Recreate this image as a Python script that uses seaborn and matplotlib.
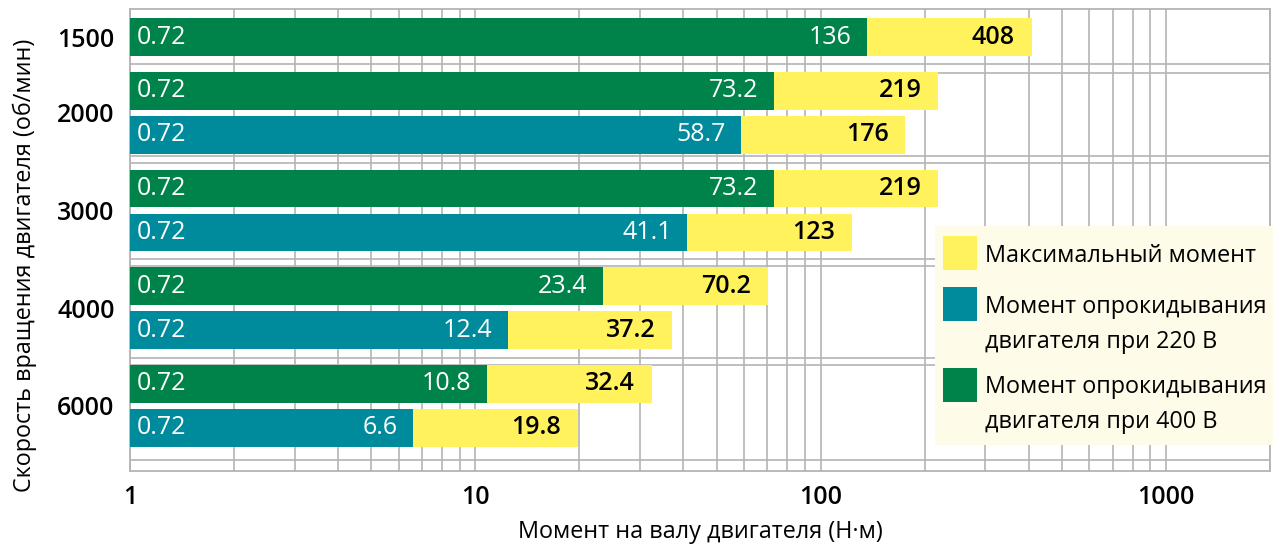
import numpy as np
import pandas as pd
import seaborn as sns
import matplotlib.pyplot as plt
from matplotlib.patches import Rectangle
from matplotlib.ticker import LogLocator, FixedLocator, NullFormatter

# Data
speeds = ['1500', '2000', '3000', '4000', '6000']
start_torque = 0.72
tip_400 = [136, 73.2, 73.2, 23.4, 10.8]       # tipping moment at 400 V
max_400 = [408, 219, 219, 70.2, 32.4]
tip_220 = [None, 58.7, 41.1, 12.4, 6.6]       # tipping moment at 220 V
max_220 = [None, 176, 123, 37.2, 19.8]

legend_labels = ['Максимальный момент',
                 'Момент опрокидывания\nдвигателя при 220 В',
                 'Момент опрокидывания\nдвигателя при 400 В']
xticks = [1, 10, 100, 1000]

GREEN = '#00834a'
TEAL = '#008b9c'
YELLOW = '#fff25c'
GRID = '#b4b4b4'
LEGEND_BG = '#fefce8'

W, H = 1279, 547
NUM_FS = 18     # numbers
TXT_FS = 16.8   # cyrillic text

sns.set_style('white')
plt.rcParams['font.family'] = ['Open Sans', 'DejaVu Sans']
plt.rcParams.update({'text.color': 'black', 'axes.labelcolor': 'black',
                     'xtick.color': 'black', 'ytick.color': 'black'})

# Build one row per bar, groups separated by a gap
rows = []
pos = 0.0
group_centers = []
for i, spd in enumerate(speeds):
    group_pos = []
    rows.append(dict(pos=pos, speed=spd, series='400', tip=tip_400[i], max=max_400[i]))
    group_pos.append(pos)
    if tip_220[i] is not None:
        pos += 1.0
        rows.append(dict(pos=pos, speed=spd, series='220', tip=tip_220[i], max=max_220[i]))
        group_pos.append(pos)
    group_centers.append(np.mean(group_pos))
    pos += 1.22
df = pd.DataFrame(rows)

fig = plt.figure(figsize=(W / 100, H / 100), dpi=100)
ax = fig.add_axes([130 / W, 1 - 471 / H, 1140 / W, 462 / H])

# yellow max bars first, then the tipping moment bars over them
sns.barplot(data=df, x='max', y='pos', orient='h', native_scale=True,
            color=YELLOW, saturation=1, width=0.86, linewidth=0,
            log_scale=(True, False), ax=ax, zorder=2)
sns.barplot(data=df, x='tip', y='pos', hue='series', orient='h', native_scale=True,
            palette={'400': GREEN, '220': TEAL}, saturation=1, width=0.86,
            linewidth=0, dodge=False, legend=False, ax=ax, zorder=3)

ax.set_xscale('log')
ax.set_xlim(1, 2000)
ax.set_ylim(9.86, -0.64)

# grid
ax.xaxis.set_major_locator(FixedLocator(xticks))
ax.xaxis.set_minor_locator(LogLocator(base=10, subs=range(2, 10)))
ax.xaxis.set_minor_formatter(NullFormatter())
ax.grid(False)
ax.grid(True, axis='x', which='both', color=GRID, lw=1.2, zorder=0)
for gy in [0.61, 0.81, 2.70, 2.86, 5.05, 5.20, 7.30, 7.45, 9.61]:
    ax.axhline(gy, color=GRID, lw=1.2, zorder=0)
ax.set_axisbelow(True)
for sp in ax.spines.values():
    sp.set_visible(True)
    sp.set_color(GRID)
    sp.set_linewidth(1.3)

ax.set_xticks(xticks, [str(t) for t in xticks], fontsize=NUM_FS, fontweight='semibold')
ax.set_yticks(group_centers, speeds, fontsize=NUM_FS, fontweight='semibold')
ax.tick_params(axis='both', which='both', length=0)
ax.tick_params(axis='x', pad=10)
ax.tick_params(axis='y', pad=11)

ax.set_xlabel('Момент на валу двигателя (Н·м)', fontsize=TXT_FS)
ax.xaxis.set_label_coords(0.5, -(532 - 471) / 462)
ax.xaxis.label.set_va('center')
ax.set_ylabel('Скорость вращения двигателя (об/мин)', fontsize=TXT_FS)
ax.yaxis.set_label_coords(-(130 - 25) / 1140, 0.444)
ax.yaxis.label.set_va('center')

# bar labels
for _, r in df.iterrows():
    ax.annotate(f'{start_torque}', xy=(0, r['pos']), xycoords=('axes fraction', 'data'),
                xytext=(5, 0), textcoords='offset points', ha='left', va='center',
                color='white', fontsize=NUM_FS, zorder=5)
    ax.annotate(f"{r['tip']:g}", xy=(r['tip'], r['pos']), xytext=(-11, 0),
                textcoords='offset points', ha='right', va='center',
                color='white', fontsize=NUM_FS, zorder=5)
    ax.annotate(f"{r['max']:g}", xy=(r['max'], r['pos']), xytext=(-12, 0),
                textcoords='offset points', ha='right', va='center',
                color='black', fontsize=NUM_FS, fontweight='semibold', zorder=5)

# legend, drawn by hand so the swatches line up with the first text line
def fx(px):
    return px / W


def fy(py):
    return 1 - py / H


fig.patches.append(Rectangle((fx(935), fy(445)), fx(1273) - fx(935), fy(226) - fy(445),
                             transform=fig.transFigure, facecolor=LEGEND_BG,
                             edgecolor='none', zorder=10))
swatch_tops = [236, 287, 368]
text_baselines = [262, 313, 393]
for col, top, base, lab in zip([YELLOW, TEAL, GREEN], swatch_tops, text_baselines, legend_labels):
    fig.patches.append(Rectangle((fx(943), fy(top + 34)), fx(34), 34 / H,
                                 transform=fig.transFigure, facecolor=col,
                                 edgecolor='none', zorder=11))
    for k, line in enumerate(lab.split('\n')):
        fig.text(fx(985), fy(base + 35 * k), line, ha='left', va='baseline',
                 fontsize=TXT_FS, zorder=12)

fig.savefig('out.png', dpi=100)
